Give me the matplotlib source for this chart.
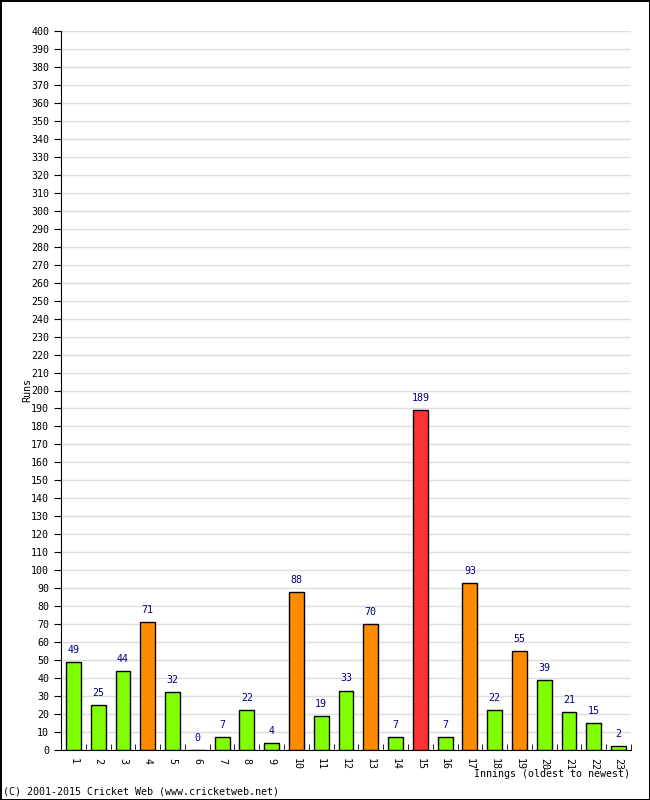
import matplotlib
matplotlib.use('Agg')
import matplotlib.pyplot as plt
import numpy as np

# innings data
innings = [str(i) for i in range(1, 24)]
runs = [49, 25, 44, 71, 32, 0, 7, 22, 4, 88, 19, 33, 70, 7, 189, 7, 93, 22, 55, 39, 21, 15, 2]
# colour key: green < 50, orange 50-99, red 100+
bar_colors = ['#80ff00' if r < 50 else ('#ff8c00' if r < 100 else '#ff3333') for r in runs]

plt.rcParams['font.family'] = 'DejaVu Sans Mono'
fs = 7.2

fig = plt.figure(figsize=(6.5, 8), dpi=100)
fig.patch.set_edgecolor('black')
fig.patch.set_linewidth(2)
ax = fig.add_axes([61/650, 50/800, 570/650, 719/800])

x = np.arange(len(runs))
ax.bar(x, runs, width=0.6, color=bar_colors, edgecolor='black', linewidth=1, zorder=3)
for xi, r in zip(x, runs):
    ax.text(xi, r + 4, str(r), ha='center', va='bottom', color='#000080', fontsize=fs)

ax.set_xlim(-0.5, len(runs) - 0.5)
ax.set_ylim(0, 400)
ax.set_yticks(np.arange(0, 401, 10))
ax.tick_params(axis='y', labelsize=fs, length=5, direction='out')
ax.yaxis.grid(True, color='#dddddd', linewidth=1, zorder=0)
ax.set_axisbelow(True)

ax.set_xticks(x)
ax.set_xticklabels(innings, rotation=-90, fontsize=fs)
ax.tick_params(axis='x', length=0, pad=6)
ax.set_xticks(np.arange(len(runs) + 1) - 0.5, minor=True)
ax.tick_params(axis='x', which='minor', direction='in', length=4)

for s in ['top', 'right']:
    ax.spines[s].set_visible(False)

fig.text(27/650, 1 - 390/800, 'Runs', rotation=90, ha='center', va='center', fontsize=fs)
fig.text(630/650, 1 - 774/800, 'Innings (oldest to newest)', ha='right', va='center', fontsize=fs)
fig.text(3/650, 1 - 792/800, '(C) 2001-2015 Cricket Web (www.cricketweb.net)', ha='left', va='center', fontsize=fs)

fig.savefig('out.png', dpi=100, edgecolor=fig.get_edgecolor())
